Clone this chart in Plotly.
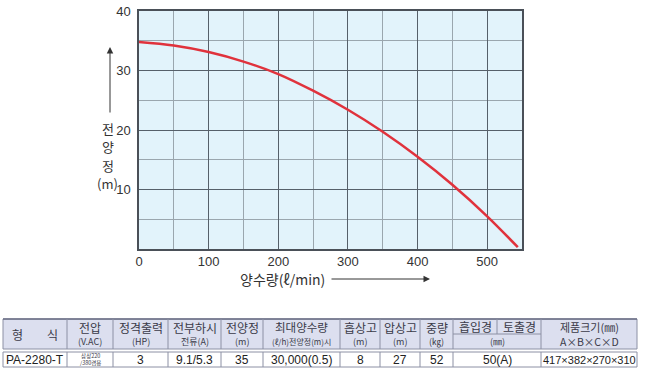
import plotly.graph_objects as go

# ---- chart data ----
flow = [0, 50, 100, 150, 200, 250, 300, 350, 400, 450, 500, 544]
head = [34.8, 34.2, 33.1, 31.5, 29.4, 26.6, 23.4, 19.7, 15.5, 10.8, 5.5, 0.3]
x_ticks = [0, 100, 200, 300, 400, 500]
y_ticks = [10, 20, 30, 40]
y_title_chars = ["전", "양", "정", "(m)"]

# ---- table data ----
hdr_top = ["형　　식", "전압", "정격출력", "전부하시", "전양정", "최대양수량", "흡상고", "압상고", "중량", "", "제품크기(㎜)"]
hdr_sub = ["", "(V.AC)", "(HP)", "전류(A)", "(m)", "(ℓ/h)전양정(m)시", "(m)", "(m)", "(㎏)", "(㎜)", "A×B×C×D"]
hdr_split = ["흡입경", "토출경"]
row_vals = ["PA-2280-T", "삼상220<br>/380겸용", "3", "9.1/5.3", "35", "30,000(0.5)", "8", "27", "52", "50(A)", "417×382×270×310"]

W, H = 646, 374
def X(px): return px / W
def Y(py): return 1 - py / H

KR = "Noto Sans CJK KR"
NUM = "Liberation Sans Narrow, Liberation Sans, Arial"

fig = go.Figure()
fig.add_trace(go.Scatter(x=flow, y=head, mode="lines",
                         line=dict(color="#e0323c", width=2.5, shape="spline", smoothing=1.0),
                         hoverinfo="skip", showlegend=False))

fig.update_layout(
    width=W, height=H, margin=dict(l=0, r=0, t=0, b=0, pad=0, autoexpand=False),
    paper_bgcolor="white", plot_bgcolor="#e2f3fb",
    xaxis=dict(domain=[X(139), X(522)], range=[0, 550], tickvals=x_ticks, automargin=False,
               showgrid=True, gridcolor="#56606a", gridwidth=1,
               minor=dict(dtick=50, showgrid=True, gridcolor="#9aa6ae", gridwidth=1),
               showline=True, linecolor="#4a5058", linewidth=1.5, mirror=True,
               zeroline=False, ticks="", ticklabelstandoff=0,
               tickfont=dict(family=NUM, size=13, color="#333")),
    yaxis=dict(domain=[Y(249), Y(11)], range=[0, 40], tickvals=y_ticks, automargin=False,
               showgrid=True, gridcolor="#56606a", gridwidth=1,
               minor=dict(dtick=5, showgrid=True, gridcolor="#9aa6ae", gridwidth=1),
               showline=True, linecolor="#4a5058", linewidth=1.5, mirror=True,
               zeroline=False, ticks="", ticklabelstandoff=4,
               tickfont=dict(family=NUM, size=13, color="#333")),
)

shapes = []
ann = []

def text(px, py, t, font):
    ann.append(dict(x=X(px), y=Y(py), xref="paper", yref="paper", text=t, showarrow=False,
                    xanchor="center", yanchor="middle", font=font))

# axis titles and arrows
ann.append(dict(x=X(110), y=Y(47), xref="paper", yref="paper", ax=0, ay=67,
                text="", showarrow=True, arrowhead=2, arrowsize=1.3, arrowwidth=1, arrowcolor="#333"))
for k, ch in enumerate(y_title_chars):
    text(108, 128.5 + 18.3 * k, ch, dict(family=KR, size=13, color="#333"))
text(282, 279, "양수량(ℓ/min)", dict(family=KR, size=14, color="#333"))
ann.append(dict(x=X(430), y=Y(279), xref="paper", yref="paper", ax=-100, ay=0,
                text="", showarrow=True, arrowhead=2, arrowsize=1.3, arrowwidth=1, arrowcolor="#333"))

# table layout
edges = [3, 67, 113, 168, 221, 263, 340, 380, 420, 453, 541, 637]
split_x = 497
h_top, h_bot, h_mid = 319, 349, 334
d_top, d_bot = 352, 367
line_c = "#8c90a4"

shapes.append(dict(type="rect", xref="paper", yref="paper", x0=X(edges[0]), x1=X(edges[-1]),
                   y0=Y(h_bot), y1=Y(h_top), fillcolor="#dcdfef", line=dict(color=line_c, width=1)))
shapes.append(dict(type="line", xref="paper", yref="paper", x0=X(edges[0]), x1=X(edges[-1]),
                   y0=Y(h_top), y1=Y(h_top), line=dict(color="#6a6e84", width=1.5)))
shapes.append(dict(type="rect", xref="paper", yref="paper", x0=X(edges[0]), x1=X(edges[-1]),
                   y0=Y(d_bot), y1=Y(d_top), fillcolor="white", line=dict(color=line_c, width=1)))
for e in edges[1:-1]:
    shapes.append(dict(type="line", xref="paper", yref="paper", x0=X(e), x1=X(e),
                       y0=Y(h_bot), y1=Y(h_top), line=dict(color=line_c, width=1)))
    shapes.append(dict(type="line", xref="paper", yref="paper", x0=X(e), x1=X(e),
                       y0=Y(d_bot), y1=Y(d_top), line=dict(color=line_c, width=1)))
# split header for 흡입경 / 토출경
shapes.append(dict(type="line", xref="paper", yref="paper", x0=X(edges[9]), x1=X(edges[10]),
                   y0=Y(h_mid), y1=Y(h_mid), line=dict(color=line_c, width=1)))
shapes.append(dict(type="line", xref="paper", yref="paper", x0=X(split_x), x1=X(split_x),
                   y0=Y(h_mid), y1=Y(h_top), line=dict(color=line_c, width=1)))

txt_c = "#3a3a48"
for i in range(len(edges) - 1):
    cx = (edges[i] + edges[i + 1]) / 2
    if i == 0:
        text(cx, 334, hdr_top[i], dict(family=KR, size=12, color=txt_c))
    elif i == 9:
        for j, t in enumerate(hdr_split):
            lo = edges[9] if j == 0 else split_x
            hi = split_x if j == 0 else edges[10]
            text((lo + hi) / 2, 326.5, t, dict(family=KR, size=12, color=txt_c))
        text(cx, 341.5, hdr_sub[i], dict(family=KR, size=9, color=txt_c))
    else:
        size_top = 12 if i != 5 else 11.5
        size_sub = 9 if i != 5 else 8
        if i == 10:
            size_top, size_sub = 11, 10.5
        text(cx, 327, hdr_top[i], dict(family=KR, size=size_top, color=txt_c))
        text(cx, 341, hdr_sub[i], dict(family=KR, size=size_sub, color=txt_c))
    # data row
    if i == 1:
        text(cx, 359.5, row_vals[i], dict(family=KR, size=5.5, color=txt_c))
    elif i == 10:
        text(cx, 359.5, row_vals[i], dict(family=NUM, size=11, color="#222"))
    else:
        text(cx, 359.5, row_vals[i], dict(family=NUM, size=12, color="#222"))

fig.update_layout(shapes=shapes, annotations=ann)
fig.write_html("out.html", post_script="document.body.style.margin='0';",
               config={"displayModeBar": False})
